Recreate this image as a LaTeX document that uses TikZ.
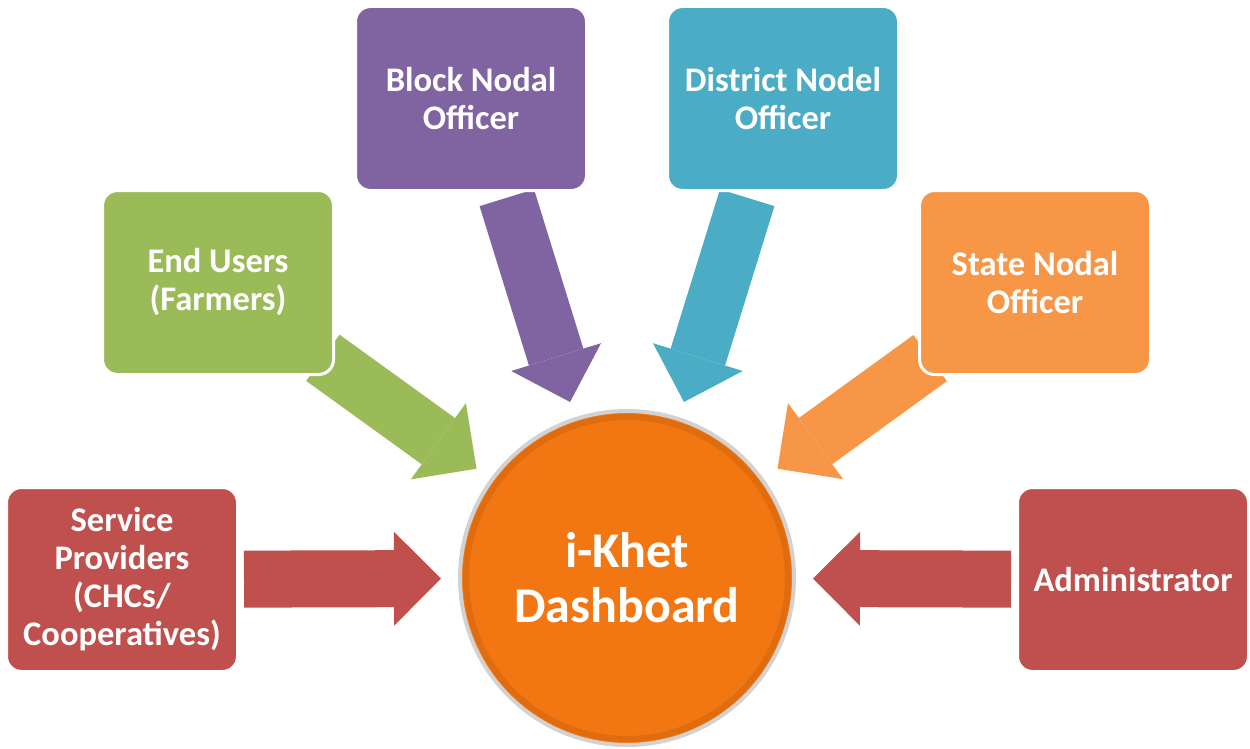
\documentclass[tikz,border=0pt]{standalone}
\usepackage{fontspec}
\setmainfont{Carlito}
\definecolor{SPRed}{RGB}{192,80,77}
\definecolor{EUGreen}{RGB}{155,187,89}
\definecolor{BNPurple}{RGB}{128,100,162}
\definecolor{DNTeal}{RGB}{75,172,198}
\definecolor{SNOrange}{RGB}{247,150,70}
\definecolor{HubOrange}{RGB}{242,118,17}
\definecolor{HubRim}{RGB}{210,210,210}
\usetikzlibrary{arrows.meta,backgrounds,calc}

\begin{document}
\begin{tikzpicture}[x=1pt,y=-1pt,
    every node/.style={font=\bfseries\fontsize{34.5}{38}\selectfont,text=white},
    role/.style={draw=white,line width=3pt,rounded corners=15pt,
                 minimum width=231pt,minimum height=184pt,align=center},
    hubc/.style={circle,fill=HubOrange,draw=HubRim,line width=4pt,
                 minimum size=334pt,inner sep=0pt,align=center,
                 font=\bfseries\fontsize{50}{55}\selectfont},
    fat/.style={line width=57pt,-{Triangle[length=47pt,width=94pt,line width=0pt]}}]
    \useasboundingbox (0,0) rectangle (1250,749);
    \node[role,fill=SPRed]    (sp)  at (122,579.5) {Service\\Providers\\(CHCs/\\Cooperatives)};
    \node[role,fill=EUGreen]  (eu)  at (218,282.5) {End Users\\(Farmers)};
    \node[role,fill=BNPurple] (bno) at (471,98.5)  {Block Nodal\\Officer};
    \node[role,fill=DNTeal]   (dno) at (783,98.5)  {District Nodel\\Officer};
    \node[role,fill=SNOrange] (sno) at (1035,282.5) {State Nodal\\Officer};
    \node[role,fill=SPRed]    (adm) at (1133,579.5) {Administrator};
    \node[hubc] (hub) at (627,578) {i-Khet\\Dashboard};
    \draw[HubOrange!75!black,line width=6pt,opacity=0.3] (hub.center) circle (161pt);
    \begin{scope}[on background layer]
      \draw[fat,SPRed,shorten <=5pt,shorten >=17pt] (sp) -- (hub);
      \draw[fat,EUGreen,shorten <=-15pt,shorten >=17pt] (eu) -- (hub.144);
      \draw[fat,BNPurple,shorten <=6pt,shorten >=16pt] (bno.-70) -- (hub.108);
      \draw[fat,DNTeal,shorten <=6pt,shorten >=16pt] (dno.-110) -- (hub.72);
      \draw[fat,SNOrange,shorten <=-15pt,shorten >=17pt] (sno) -- (hub.36);
      \draw[fat,SPRed,shorten <=5pt,shorten >=17pt] (adm) -- (hub);
    \end{scope}
  \end{tikzpicture}
\end{document}
